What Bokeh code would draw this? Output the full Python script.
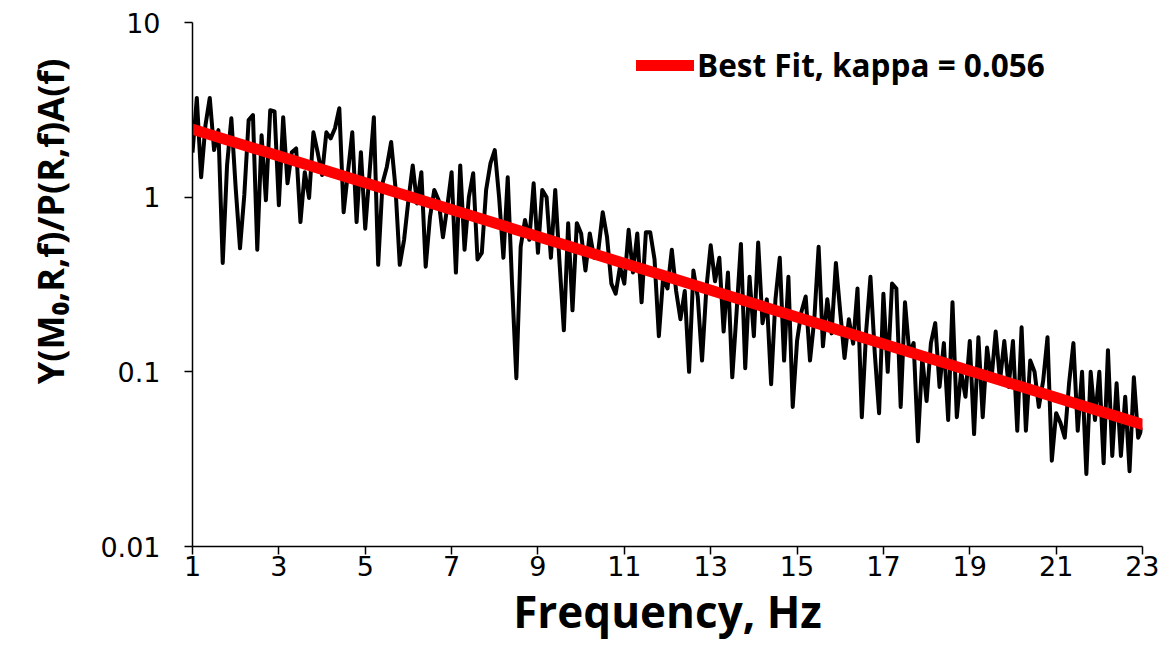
from bokeh.plotting import figure
from bokeh.models import FixedTicker, CustomJSTickFormatter, Legend, LegendItem, Range1d, Title
from bokeh.embed import file_html
from bokeh.resources import INLINE

amplitude = [
    1.8, 3.7, 1.30, 2.58, 3.7, 1.86, 2.42, 0.42, 1.52, 2.83,
    1.13, 0.51, 1.03, 2.76, 2.95, 0.50, 2.26, 0.96, 3.15, 3.1,
    0.9, 2.87, 1.2, 1.81, 1.9, 0.72, 1.39, 0.99, 2.35, 1.8,
    1.34, 2.35, 2.17, 2.48, 3.23, 0.82, 1.39, 2.35, 0.72, 1.81,
    0.66, 1.38, 2.87, 0.41, 1.2, 1.49, 2.07, 1.14, 0.41, 0.57,
    0.96, 1.52, 0.92, 1.39, 0.40, 0.77, 1.1, 0.96, 0.59, 0.88,
    1.39, 0.37, 1.52, 0.5, 1.0, 1.37, 0.44, 0.48, 1.1, 1.56,
    1.86, 1.0, 0.45, 1.3, 0.32, 0.092, 0.52, 0.74, 0.57, 1.2,
    0.48, 1.1, 1.0, 0.45, 1.1, 0.42, 0.173, 0.71, 0.225, 0.71,
    0.62, 0.38, 0.62, 0.45, 0.5, 0.82, 0.59, 0.32, 0.28, 0.4,
    0.32, 0.65, 0.37, 0.62, 0.25, 0.63, 0.63, 0.44, 0.16, 0.35,
    0.3, 0.5, 0.29, 0.2, 0.29, 0.1, 0.38, 0.27, 0.116, 0.3,
    0.53, 0.33, 0.45, 0.17, 0.37, 0.093, 0.22, 0.54, 0.105, 0.35,
    0.16, 0.55, 0.19, 0.26, 0.085, 0.26, 0.45, 0.116, 0.35, 0.063,
    0.15, 0.22, 0.27, 0.116, 0.2, 0.52, 0.14, 0.26, 0.166, 0.42,
    0.22, 0.12, 0.2, 0.145, 0.3, 0.055, 0.17, 0.35, 0.128, 0.058,
    0.28, 0.1, 0.32, 0.3, 0.063, 0.25, 0.128, 0.146, 0.04, 0.12,
    0.068, 0.146, 0.19, 0.082, 0.146, 0.053, 0.25, 0.055, 0.1, 0.072,
    0.15, 0.044, 0.158, 0.055, 0.138, 0.089, 0.17, 0.089, 0.15, 0.082,
    0.15, 0.046, 0.18, 0.046, 0.116, 0.1, 0.063, 0.089, 0.158, 0.031,
    0.058, 0.051, 0.042, 0.086, 0.146, 0.046, 0.1, 0.026, 0.1, 0.053,
    0.1, 0.03, 0.133, 0.033, 0.086, 0.033, 0.072, 0.027, 0.093, 0.042,
    0.048,
]
freq = [round(1.0 + 0.1 * i, 1) for i in range(len(amplitude))]

# Best fit line end points (kappa = 0.056)
fit_freq = [1.0, 23.0]
fit_amp = [2.45, 0.05]

x_ticks = [1, 3, 5, 7, 9, 11, 13, 15, 17, 19, 21, 23]
y_ticks = [0.01, 0.1, 1, 10]

p = figure(
    frame_width=950, frame_height=524,
    x_range=Range1d(1, 23), y_range=Range1d(0.01, 10),
    y_axis_type="log",
    output_backend="svg", toolbar_location=None,
    min_border_left=192, min_border_top=22, min_border_right=17, min_border_bottom=90,
)
p.outline_line_color = None
p.xgrid.visible = False
p.ygrid.visible = False
p.background_fill_color = "white"
p.border_fill_color = "white"

p.line(freq, amplitude, line_color="black", line_width=4, line_join="round")
fit_r = p.line(fit_freq, fit_amp, line_color="#ff0000", line_width=11, line_cap="round")

# axes
for ax in (p.xaxis[0], p.yaxis[0]):
    ax.axis_line_color = "black"
    ax.axis_line_width = 1.5
    ax.major_tick_line_color = "black"
    ax.major_tick_line_width = 1.5
    ax.minor_tick_line_color = None
    ax.major_tick_in = 0
    ax.major_tick_out = 8
    ax.major_label_text_font = "DejaVu Sans"
    ax.major_label_text_font_size = "27px"
    ax.major_label_text_color = "black"
    ax.axis_label_text_font = "Open Sans"
    ax.axis_label_text_font_style = "bold"
    ax.axis_label_text_color = "black"

p.xaxis.ticker = FixedTicker(ticks=x_ticks)
p.yaxis.ticker = FixedTicker(ticks=y_ticks)
p.yaxis.formatter = CustomJSTickFormatter(code="return String(Number(tick.toPrecision(6)));")
p.xaxis.major_label_standoff = 1
p.yaxis.major_label_standoff = 24

p.xaxis.axis_label = "Frequency, Hz"
p.xaxis.axis_label_text_font_size = "44px"
p.xaxis.axis_label_standoff = 2

ylabel = Title(
    text="Y(M₀,R,f)/P(R,f)A(f)", align="right", vertical_align="top",
    offset=36, standoff=42,
    text_font="Open Sans", text_font_style="bold", text_font_size="36px",
    text_color="black",
)
p.add_layout(ylabel, "left")

legend = Legend(
    items=[LegendItem(label="Best Fit, kappa = 0.056", renderers=[fit_r])],
    location=(444, 460),
    border_line_color=None, background_fill_alpha=0,
    padding=0, margin=0, glyph_width=58, glyph_height=30, label_standoff=3,
    label_text_font="Open Sans", label_text_font_style="bold",
    label_text_font_size="31.5px", label_text_color="black",
)
p.add_layout(legend, "center")

open("out.html", "w").write(file_html(p, INLINE))
